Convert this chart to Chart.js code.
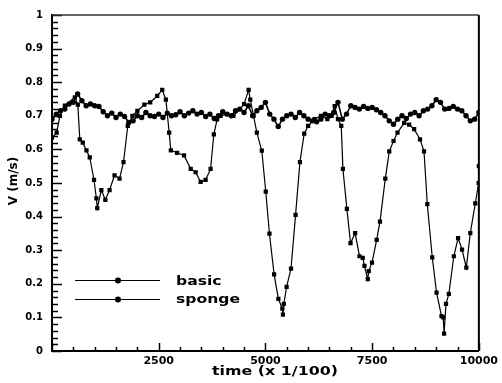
<!DOCTYPE html>
<html>
<head>
<meta charset="utf-8">
<script src="https://cdn.jsdelivr.net/npm/chart.js@4/dist/chart.umd.min.js"></script>
<style>
html,body{margin:0;padding:0;background:#fff;}
#wrap{width:502px;height:383px;position:relative;}
</style>
</head>
<body>
<div id="wrap"><canvas id="c" width="502" height="383"></canvas></div>
<script>
// ---- data (time in 1/100 s, V in m/s) ----
const basicTime = [0,110,186,302,535,605,651,721,807,884,984,1040,1060,1156,1249,1349,1465,1582,1675,1775,1884,2000,2163,2300,2465,2582,2668,2745,2784,2931,3094,3250,3366,3482,3598,3715,3791,3868,3950,4100,4250,4400,4500,4606,4645,4722,4799,4915,5008,5094,5203,5303,5396,5410,5430,5496,5599,5706,5808,5908,6001,6150,6300,6450,6550,6622,6700,6776,6815,6908,6994,7101,7204,7280,7320,7397,7420,7497,7606,7683,7808,7901,8001,8094,8250,8367,8483,8622,8715,8792,8908,9009,9125,9165,9185,9230,9297,9413,9513,9606,9706,9799,9916,9995,10000];
const basicV = [0.635,0.65,0.70,0.73,0.755,0.733,0.63,0.62,0.597,0.576,0.509,0.454,0.425,0.479,0.45,0.479,0.523,0.513,0.562,0.67,0.70,0.715,0.733,0.74,0.759,0.777,0.748,0.65,0.597,0.59,0.582,0.542,0.532,0.503,0.509,0.542,0.645,0.689,0.70,0.705,0.70,0.72,0.735,0.777,0.748,0.70,0.65,0.596,0.474,0.349,0.228,0.155,0.126,0.108,0.14,0.191,0.245,0.405,0.562,0.647,0.67,0.69,0.70,0.69,0.70,0.729,0.69,0.67,0.542,0.423,0.321,0.351,0.282,0.277,0.253,0.214,0.238,0.263,0.331,0.385,0.513,0.594,0.625,0.65,0.679,0.674,0.66,0.63,0.594,0.437,0.279,0.174,0.104,0.10,0.052,0.14,0.17,0.282,0.336,0.302,0.248,0.351,0.439,0.50,0.55];

const spongeTime = [0,100,200,300,400,500,600,700,800,900,1000,1100,1200,1300,1400,1500,1600,1700,1800,1900,2000,2100,2200,2300,2400,2500,2600,2700,2800,2900,3000,3100,3200,3300,3400,3500,3600,3700,3800,3900,4000,4100,4200,4300,4400,4500,4600,4700,4800,4900,5000,5100,5200,5300,5400,5500,5600,5700,5800,5900,6000,6100,6200,6300,6400,6500,6600,6700,6800,6900,7000,7100,7200,7300,7400,7500,7600,7700,7800,7900,8000,8100,8200,8300,8400,8500,8600,8700,8800,8900,9000,9100,9200,9300,9400,9500,9600,9700,9800,9900,10000];
const spongeV = [0.69,0.705,0.715,0.72,0.735,0.74,0.765,0.745,0.73,0.735,0.73,0.728,0.712,0.70,0.708,0.695,0.705,0.698,0.68,0.685,0.70,0.695,0.71,0.70,0.698,0.705,0.695,0.708,0.70,0.703,0.712,0.70,0.708,0.715,0.705,0.71,0.698,0.705,0.692,0.70,0.712,0.705,0.70,0.715,0.72,0.71,0.73,0.70,0.715,0.725,0.74,0.705,0.69,0.668,0.69,0.70,0.705,0.695,0.71,0.70,0.69,0.685,0.682,0.69,0.705,0.70,0.71,0.74,0.69,0.705,0.73,0.725,0.72,0.728,0.722,0.725,0.718,0.71,0.70,0.685,0.675,0.69,0.70,0.692,0.705,0.71,0.70,0.715,0.72,0.73,0.748,0.74,0.72,0.722,0.728,0.72,0.715,0.70,0.685,0.69,0.71];

const seriesNames = ['basic', 'sponge'];
const xTickValues = [2500, 5000, 7500, 10000];
const xTitle = 'time (x 1/100)';
const yTitle = 'V (m/s)';

function pts(t, v){ return t.map((tt,i)=>({x:tt, y:v[i]})); }

const FONT = '"DejaVu Sans", "Liberation Sans", Arial, sans-serif';

const decor = {
  id: 'decor',
  afterDraw(chart){
    const {ctx, chartArea:a, scales:{x, y}} = chart;
    ctx.save();
    ctx.strokeStyle = '#000';
    ctx.lineWidth = 1.5;
    for (let i = 0; i <= 50; i++) {
      const py = Math.round(y.getPixelForValue(i/50)) + 0.5;
      const len = (i % 5 === 0) ? 10 : 6;
      ctx.beginPath(); ctx.moveTo(a.left, py); ctx.lineTo(a.left + len, py); ctx.stroke();
    }
    for (let i = 0; i <= 20; i++) {
      const px = Math.round(x.getPixelForValue(i*500)) + 0.5;
      const len = (i % 5 === 0) ? 8 : 4;
      ctx.beginPath(); ctx.moveTo(px, a.bottom); ctx.lineTo(px, a.bottom - len); ctx.stroke();
    }
    ctx.lineWidth = 2;
    ctx.beginPath(); ctx.moveTo(a.right, a.top); ctx.lineTo(a.right, a.bottom); ctx.stroke();
    ctx.strokeStyle = '#333';
    ctx.lineWidth = 1.5;
    ctx.beginPath(); ctx.moveTo(a.left, a.top); ctx.lineTo(a.right, a.top); ctx.stroke();

    ctx.fillStyle = '#000';
    ctx.save();
    ctx.translate(14, 181);
    ctx.rotate(-Math.PI/2);
    ctx.font = 'bold 12px ' + FONT;
    ctx.textAlign = 'center'; ctx.textBaseline = 'middle';
    ctx.fillText(yTitle, 0, 0);
    ctx.restore();
    ctx.save();
    ctx.translate(275, 372);
    ctx.scale(1.22, 1);
    ctx.font = 'bold 13px ' + FONT;
    ctx.textAlign = 'center'; ctx.textBaseline = 'middle';
    ctx.fillText(xTitle, 0, 0);
    ctx.restore();

    const rows = [280, 299];
    const bases = [285, 303];
    ctx.strokeStyle = '#000';
    ctx.lineWidth = 1;
    seriesNames.forEach((name, i) => {
      const ly = rows[i] + 0.5;
      ctx.beginPath(); ctx.moveTo(75, ly); ctx.lineTo(160, ly); ctx.stroke();
      ctx.beginPath(); ctx.arc(118, ly, 3, 0, Math.PI*2); ctx.fill();
      ctx.save();
      ctx.translate(176, bases[i]);
      ctx.scale(1.2, 1);
      ctx.font = 'bold 13px ' + FONT;
      ctx.textAlign = 'left'; ctx.textBaseline = 'alphabetic';
      ctx.fillText(name, 0, 0);
      ctx.restore();
    });
    ctx.restore();
  }
};

new Chart(document.getElementById('c'), {
  type: 'line',
  data: {
    datasets: [
      {
        label: seriesNames[1],
        data: pts(spongeTime, spongeV),
        borderColor: '#000', backgroundColor: '#000',
        borderWidth: 1.6, pointRadius: 2.7, pointStyle: 'circle',
        pointBorderWidth: 0, tension: 0
      },
      {
        label: seriesNames[0],
        data: pts(basicTime, basicV),
        borderColor: '#000', backgroundColor: '#000',
        borderWidth: 1.2, pointRadius: 3, pointStyle: 'rect',
        pointBorderWidth: 0, tension: 0
      }
    ]
  },
  options: {
    responsive: false,
    animation: false,
    layout: { padding: { top: 11, right: 20, left: 0, bottom: 0 } },
    plugins: { legend: { display: false }, tooltip: { enabled: false } },
    scales: {
      x: {
        type: 'linear', min: 0, max: 10000,
        grid: { display: false, drawTicks: false },
        border: { display: true, color: '#000', width: 2 },
        afterBuildTicks(scale){ scale.ticks = [0].concat(xTickValues).map(v=>({value:v})); },
        ticks: {
          autoSkip: false, maxRotation: 0, padding: 4, color: '#000',
          font: { family: FONT, size: 11, weight: 'bold' },
          callback: (v) => v === 0 ? '' : String(v)
        },
        afterFit(scale){ scale.height = 32; }
      },
      y: {
        type: 'linear', min: 0, max: 1,
        grid: { display: false, drawTicks: false },
        border: { display: true, color: '#000', width: 2 },
        ticks: {
          stepSize: 0.1, padding: 9, color: '#000',
          font: { family: FONT, size: 10, weight: 'bold' },
          callback: (v) => { const r = Math.round(v*10)/10; return (r === 0 || r === 1) ? String(r) : r.toFixed(1); }
        },
        afterFit(scale){ scale.width = 52; }
      }
    }
  },
  plugins: [decor]
});
</script>
</body>
</html>
